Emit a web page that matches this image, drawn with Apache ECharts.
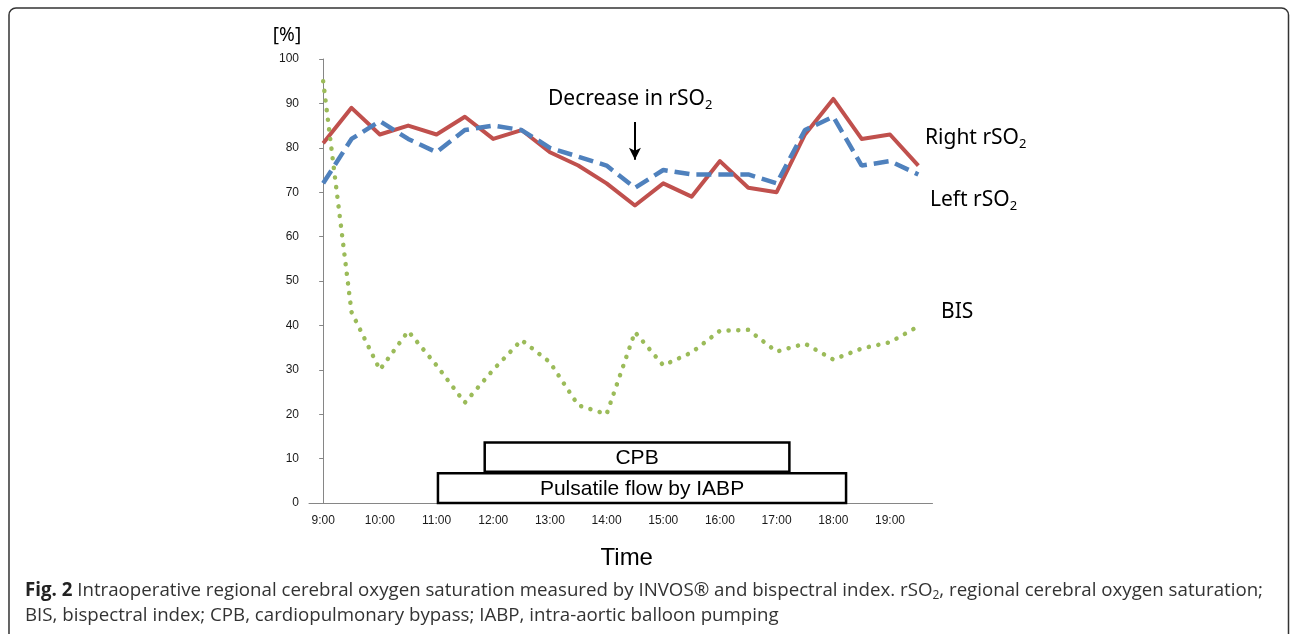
<!DOCTYPE html>
<html>
<head>
<meta charset="utf-8">
<title>rSO2 and BIS</title>
<script src="https://cdn.jsdelivr.net/npm/echarts@6/dist/echarts.min.js"></script>
<style>
  html, body { margin: 0; padding: 0; background: #fff; }
  #main { width: 1290px; height: 634px; }
</style>
</head>
<body>
<div id="main"></div>
<script>
// half-hour categories, every other one labelled
var times = ['9:00', '9:30', '10:00', '10:30', '11:00', '11:30', '12:00', '12:30',
  '13:00', '13:30', '14:00', '14:30', '15:00', '15:30', '16:00', '16:30',
  '17:00', '17:30', '18:00', '18:30', '19:00', '19:30'];

var rightRso2 = [81, 89, 83, 85, 83, 87, 82, 84, 79, 76, 72, 67, 72, 69, 77, 71, 70, 83, 91, 82, 83, 76];
var leftRso2 = [72, 82, 86, 82, 79, 84, 85, 84, 80, 78, 76, 71, 75, 74, 74, 74, 72, 84, 87, 76, 77, 74];
var bis = [95, 43, 30, 38.7, 31, 22.6, 30, 36.7, 31.7, 22, 20, 38.5, 31, 33.9, 38.8, 39, 34.1, 35.9, 32.3, 34.8, 36.2, 39.8];

// periods drawn as boxes, in category-index units (fractional)
var periodNames = ['CPB', 'Pulsatile flow by IABP'];
var periodStart = [5.7, 4.05];
var periodEnd = [16.45, 18.45];
var periodLow = [7.05, 0];
var periodHigh = [13.6, 6.7];

var periodData = [];
for (var i = 0; i < periodNames.length; i++) {
  periodData.push([periodStart[i], periodEnd[i], periodLow[i], periodHigh[i], periodNames[i]]);
}

var annoFont = '"Noto Sans", sans-serif';
var capFont = '"Open Sans", sans-serif';
var subRich = {
  s: { fontSize: 13, lineHeight: 13, verticalAlign: 'top', padding: [12.5, 0, 0, 0], fontFamily: annoFont, fill: '#000' }
};

function annoText(x, y, text) {
  return {
    type: 'text', x: x, y: y, silent: true,
    style: {
      text: text, fontSize: 21, fontFamily: annoFont, lineHeight: 26,
      fill: '#000', textAlign: 'left', textVerticalAlign: 'middle', rich: subRich
    }
  };
}

var chart = echarts.init(document.getElementById('main'));

var option = {
  backgroundColor: '#fff',
  animation: false,
  grid: { left: 309, top: 59, width: 623.5, height: 444 },
  xAxis: [
    {
      type: 'category',
      data: times,
      axisLine: { lineStyle: { color: '#868686', width: 1 } },
      axisTick: { interval: 0, length: 4, lineStyle: { color: '#868686' } },
      axisLabel: { interval: 1, fontSize: 12, margin: 12, color: '#1a1a1a', fontFamily: 'Liberation Sans' },
      name: 'Time',
      nameLocation: 'middle',
      nameGap: 43,
      nameTextStyle: { fontSize: 24, color: '#000', fontFamily: 'Liberation Sans', padding: [0, 0, 0, 12] },
      splitLine: { show: false }
    },
    { type: 'value', min: -0.5, max: 21.5, show: false }
  ],
  yAxis: {
    type: 'value',
    min: 0, max: 100, interval: 10,
    axisLine: { show: true, lineStyle: { color: '#868686', width: 1 } },
    axisTick: { show: true, length: 4, lineStyle: { color: '#868686' } },
    axisLabel: { fontSize: 12, margin: 10, color: '#1a1a1a', fontFamily: 'Liberation Sans' },
    splitLine: { show: false }
  },
  series: [
    {
      name: 'Right rSO2', type: 'line', data: rightRso2,
      symbol: 'none', z: 3,
      lineStyle: { color: '#C0504D', width: 4, join: 'round' },
      markLine: {
        silent: true, symbol: ['none', 'arrow'], symbolSize: [9, 12],
        label: { show: false },
        lineStyle: { color: '#000', width: 2, type: 'solid' },
        data: [[{ coord: ['14:30', 85.8] }, { coord: ['14:30', 77.3] }]]
      }
    },
    {
      name: 'Left rSO2', type: 'line', data: leftRso2,
      symbol: 'none', z: 4,
      lineStyle: { color: '#4F81BD', width: 4.5, type: [15, 7] }
    },
    {
      name: 'BIS', type: 'line', data: bis,
      symbol: 'none', z: 5,
      lineStyle: { color: '#9BBB59', width: 4.5, type: [0.1, 9.6], cap: 'round' }
    },
    {
      name: 'periods', type: 'custom', xAxisIndex: 1, yAxisIndex: 0, z: 6,
      data: periodData,
      renderItem: function (params, api) {
        var p0 = api.coord([api.value(0), api.value(3)]);
        var p1 = api.coord([api.value(1), api.value(2)]);
        return {
          type: 'group',
          children: [
            {
              type: 'rect',
              shape: { x: p0[0], y: p0[1], width: p1[0] - p0[0], height: p1[1] - p0[1] },
              style: { fill: '#fff', stroke: '#000', lineWidth: 2.5 }
            },
            {
              type: 'text',
              style: {
                text: periodNames[params.dataIndex],
                x: (p0[0] + p1[0]) / 2, y: (p0[1] + p1[1]) / 2 + 1,
                fontSize: 21, fontFamily: 'Liberation Sans', fill: '#000',
                textAlign: 'center', textVerticalAlign: 'middle'
              }
            }
          ]
        };
      }
    }
  ],
  graphic: [
    {
      type: 'rect', silent: true,
      shape: { x: 9, y: 8, width: 1279.5, height: 700, r: 7 },
      style: { fill: 'none', stroke: '#333', lineWidth: 1.5 }
    },
    {
      type: 'text', x: 287, y: 36, silent: true,
      style: { text: '[%]', fontSize: 19, fontFamily: annoFont, fill: '#000', textAlign: 'center', textVerticalAlign: 'middle' }
    },
    annoText(548, 99, 'Decrease in rSO{s|2}'),
    annoText(925, 138, 'Right rSO{s|2}'),
    annoText(930, 200, 'Left rSO{s|2}'),
    annoText(941, 312, 'BIS'),
    {
      type: 'text', x: 25, y: 591, silent: true,
      style: {
        text: '{b|Fig. 2} Intraoperative regional cerebral oxygen saturation measured by INVOS\u00AE and bispectral index. rSO{s|2}, regional cerebral oxygen saturation;',
        fontSize: 18.7, fontFamily: capFont, fill: '#333', lineHeight: 24,
        textAlign: 'left', textVerticalAlign: 'middle',
        rich: {
          b: { fontSize: 18.7, fontWeight: 'bold', fontFamily: capFont, fill: '#222' },
          s: { fontSize: 12, lineHeight: 12, verticalAlign: 'top', padding: [11, 0, 0, 0], fontFamily: capFont, fill: '#333' }
        }
      }
    },
    {
      type: 'text', x: 25, y: 616, silent: true,
      style: {
        text: 'BIS, bispectral index; CPB, cardiopulmonary bypass; IABP, intra-aortic balloon pumping',
        fontSize: 18.7, fontFamily: capFont, fill: '#333',
        textAlign: 'left', textVerticalAlign: 'middle'
      }
    }
  ]
};

chart.setOption(option);
</script>
</body>
</html>
